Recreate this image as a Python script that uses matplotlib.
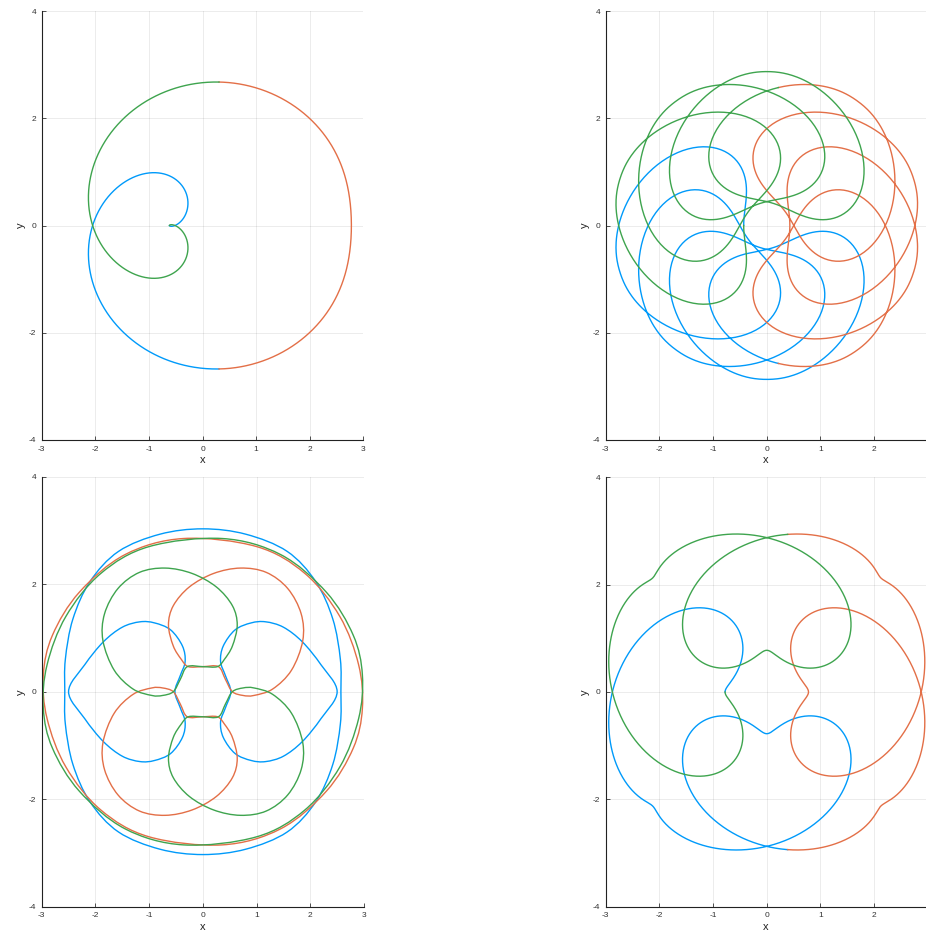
import numpy as np
import matplotlib
matplotlib.use("Agg")
import matplotlib.pyplot as plt
from matplotlib.path import Path
from matplotlib.patches import PathPatch

plt.rcParams["font.family"] = ["Liberation Sans", "DejaVu Sans"]
plt.rcParams["axes.unicode_minus"] = False

SERIES_COLORS = ["#009AFA", "#E36F47", "#3EA44E"]

# Harmonic content (frequency, amplitude) of the closed curves
TL_FREQS = [1, 2, -1, 4, -2, 5, 7, -4, 8]
TL_COEFFS = [-1.3258, 1.6026, -0.2845, -0.4439, -0.0331, -0.0369, -0.0499, -0.0170, -0.0279]
TR_FREQS = [1, 11, -19, 31]
TR_COEFFS = [-1.50, 1.42, -0.15, -0.20]
BR_FREQS = [1, 5, -7, 13]
BR_COEFFS = [-1.656, 1.542, -0.235, -0.428]

# Lower-left pattern, traced outlines
BL_BLUE_OVAL_RIGHT = [(0, 3.03), (0.8, 2.93), (1.57, 2.61), (2.1, 2.05), (2.42, 1.35), (2.56, 0.6),
                      (2.57, 0.0), (2.56, -0.6), (2.42, -1.35), (2.1, -2.05), (1.57, -2.61),
                      (0.8, -2.93), (0, -3.03)]
BL_BLUE_HEART_UPPER = [(-0.52, 0.0), (-0.42, 0.3), (-0.33, 0.56), (-0.38, 0.85), (-0.6, 1.15),
                       (-0.9, 1.28), (-1.17, 1.3), (-1.5, 1.2), (-1.85, 0.93), (-2.2, 0.5), (-2.5, 0.0)]
BL_ORANGE_LOOP = [(-0.27, 0.466), (0.0, 0.466), (0.29, 0.466), (0.42, 0.23), (0.55, 0.0), (0.75, -0.07),
                  (0.95, -0.07), (1.3, 0.05), (1.65, 0.4), (1.86, 0.95), (1.83, 1.45), (1.58, 1.92),
                  (1.18, 2.22), (0.7, 2.3), (0.2, 2.2), (-0.25, 1.95), (-0.55, 1.6), (-0.64, 1.24),
                  (-0.55, 0.85), (-0.4, 0.6)]
BL_ORANGE_BIG = [(-0.36, 2.85), (-1.45, 2.55), (-2.3, 1.85), (-2.8, 1.05), (-2.97, 0.31), (-2.9, -0.5),
                 (-2.55, -1.4), (-1.9, -2.2), (-1.0, -2.7), (0.36, -2.85), (1.45, -2.55), (2.3, -1.85),
                 (2.8, -1.05), (2.97, -0.31), (2.9, 0.5), (2.55, 1.4), (1.9, 2.2), (1.0, 2.7)]

W, H = 926, 934
fig = plt.figure(figsize=(W / 100, H / 100), dpi=100)


def make_axes(x0, x1, y0, y1, xlim):
    ax = fig.add_axes([x0 / W, 1 - y1 / H, (x1 - x0) / W, (y1 - y0) / H])
    ax.set_xlim(*xlim)
    ax.set_ylim(-4, 4)
    for s in ("top", "right"):
        ax.spines[s].set_visible(False)
    for s in ("left", "bottom"):
        ax.spines[s].set_color("#222222")
        ax.spines[s].set_linewidth(0.8)
    ax.set_xticks(range(-3, 4) if xlim[1] >= 3 else range(-3, 3))
    ax.set_yticks([-4, -2, 0, 2, 4])
    ax.grid(True, color="#000000", alpha=0.09, lw=0.6)
    ax.set_axisbelow(True)
    ax.tick_params(labelsize=6, colors="#333333", direction="in", length=3, width=0.6, pad=4)
    ax.set_xlabel("x", fontsize=8, color="#222222", labelpad=2)
    ax.set_ylabel("y", fontsize=8, color="#222222", labelpad=2)
    return ax


def harmonic_curve(ax, freqs, coeffs):
    """Closed curve sum(c_k * exp(i k t)), split into three equal parameter ranges."""
    k = np.asarray(freqs, float)
    c = np.asarray(coeffs, float)
    for j, col in enumerate(SERIES_COLORS):
        t = np.linspace(2 * np.pi * j / 3, 2 * np.pi * (j + 1) / 3, 900)
        x = np.cos(np.outer(t, k)) @ c
        y = np.sin(np.outer(t, k)) @ c
        ax.plot(x, y, color=col, lw=1.0)


def smooth_closed(ax, pts, color):
    """Closed outline through the given points, drawn with cubic Bezier segments."""
    p = np.asarray(pts, float)
    n = len(p)
    verts = [p[0]]
    codes = [Path.MOVETO]
    for i in range(n):
        p0, p1, p2, p3 = p[i - 1], p[i], p[(i + 1) % n], p[(i + 2) % n]
        verts += [p1 + (p2 - p0) / 6, p2 - (p3 - p1) / 6, p2]
        codes += [Path.CURVE4] * 3
    ax.add_patch(PathPatch(Path(verts, codes), fill=False, edgecolor=color, lw=1.0))


ax_tl = make_axes(41.7, 363.3, 11, 440, (-3, 3))
ax_tr = make_axes(605.7, 925.7, 11, 440, (-3, 2.96))
ax_bl = make_axes(41.7, 364.0, 476.7, 906.7, (-3, 3))
ax_br = make_axes(605.7, 925.7, 477.3, 906.7, (-3, 2.96))

harmonic_curve(ax_tl, TL_FREQS, TL_COEFFS)
harmonic_curve(ax_tr, TR_FREQS, TR_COEFFS)
harmonic_curve(ax_br, BR_FREQS, BR_COEFFS)

# lower-left: outlines completed with their mirror images about the vertical axis
oval_r = np.array(BL_BLUE_OVAL_RIGHT)
oval = np.vstack([oval_r, oval_r[-2:0:-1] * [-1, 1]])
heart_u = np.array(BL_BLUE_HEART_UPPER)
heart_left = np.vstack([heart_u, heart_u[-2:0:-1] * [1, -1]])
heart_right = heart_left * [-1, 1]
loop_o = np.array(BL_ORANGE_LOOP)
big_o = np.array(BL_ORANGE_BIG)

for shape in (oval, heart_left, heart_right):
    smooth_closed(ax_bl, shape, SERIES_COLORS[0])
for shape in (big_o, loop_o, -loop_o):
    smooth_closed(ax_bl, shape, SERIES_COLORS[1])
for shape in (big_o * [-1, 1], loop_o * [-1, 1], -loop_o * [-1, 1]):
    smooth_closed(ax_bl, shape, SERIES_COLORS[2])

fig.savefig("out.png")
